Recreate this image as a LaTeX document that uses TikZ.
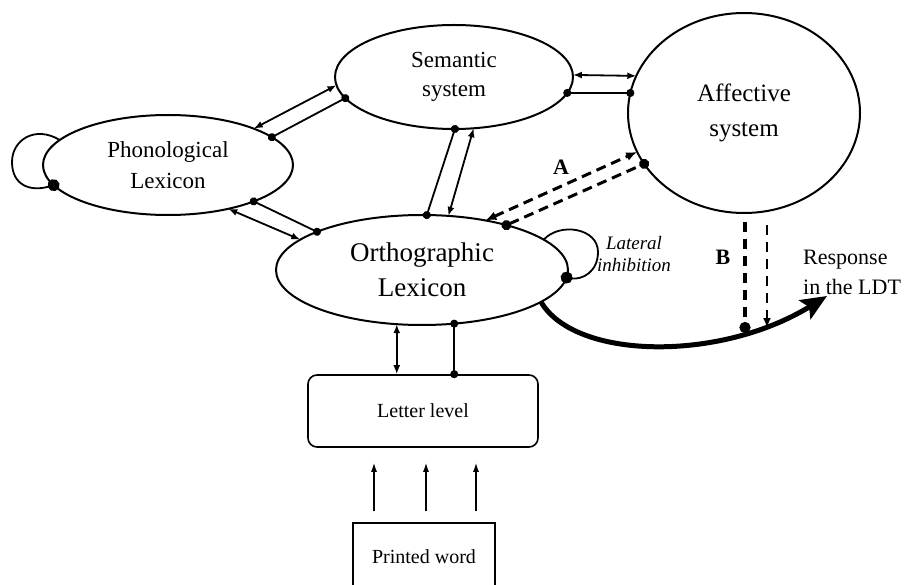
\documentclass[tikz,border=0pt]{standalone}
\usepackage{fontspec}
\setmainfont{Liberation Serif}
\usetikzlibrary{arrows.meta,shapes.geometric}
\tikzset{
  tA/.tip={Latex[length=9pt,width=7pt]},
  tD/.tip={Circle[length=8pt]},
  tBig/.tip={Circle[length=12pt]},
  ell/.style={ellipse,draw,line width=2pt,inner sep=0pt,outer sep=0pt,align=center},
  conn/.style={line width=1.8pt},
  biarrow/.style={conn,tA-tA},
  bidot/.style={conn,tD-tD,shorten <=-4pt,shorten >=-4pt},
  dsh/.style={dash pattern=on 10pt off 6pt},
  lbl/.style={font=\fontsize{22}{26}\selectfont\bfseries},
}
\begin{document}
\begin{tikzpicture}[x=1pt,y=-1pt]
\useasboundingbox (0,0) rectangle (910,585);
% nodes
\node[ell,minimum width=238pt,minimum height=104pt,font=\fontsize{23}{29}\selectfont] (sem) at (454,77) {Semantic\\system};
\node[ell,minimum width=250pt,minimum height=100pt,font=\fontsize{23}{31}\selectfont] (phon) at (168,165) {Phonological\\Lexicon};
\node[ell,minimum width=292pt,minimum height=110pt,font=\fontsize{27}{35}\selectfont] (ortho) at (422,270) {Orthographic\\Lexicon};
\node[ell,minimum width=232pt,minimum height=200pt,font=\fontsize{25}{35}\selectfont] (aff) at (744,113) {Affective\\system};
\node[draw,rounded corners=9pt,line width=1.6pt,minimum width=230pt,minimum height=72pt,inner sep=0pt,font=\fontsize{20}{24}\selectfont] (letter) at (423,411) {Letter level};
\node[draw,line width=1.2pt,minimum width=142pt,minimum height=68pt,inner sep=0pt,font=\fontsize{20}{24}\selectfont] (printed) at (424,557) {Printed word};
\node[align=left,anchor=west,font=\fontsize{22}{30}\selectfont,inner sep=0pt] (resptxt) at (803,272) {Response\\in the LDT};
\node[align=center,font=\fontsize{19}{22}\selectfont\itshape,inner sep=0pt] (lat) at (634,254) {Lateral\\inhibition};
\node[lbl] (labA) at (561,167) {A};
\node[lbl] (labB) at (723,257) {B};
\coordinate (resp) at (827,296);
\coordinate (b1top) at (745,222);
\coordinate (b1bot) at (745,328);
\coordinate (b2top) at (767,225);
\coordinate (b2bot) at (767,328);
% phon - sem
\draw[biarrow] (phon.23.8) -- (sem.184);
\draw[bidot] (phon.15) -- (sem.191.4);
% sem - ortho
\draw[bidot] (sem.271) -- (ortho.85);
\draw[biarrow] (sem.291.6) -- (ortho.64);
% sem - aff
\draw[biarrow] (sem.1) -- (aff.161);
\draw[bidot] (sem.352) -- (aff.170);
% phon - ortho
\draw[bidot] (phon.337) -- (ortho.160.4);
\draw[biarrow] (phon.324) -- (ortho.166.5);
% ortho - aff (A)
\draw[dsh,line width=3pt,{Latex[length=11pt,width=9pt]}-{Latex[length=11pt,width=9pt]}] (ortho.38.7) -- (aff.200.5);
\draw[dsh,line width=3pt,{Circle[length=10pt]}-{Circle[length=10pt]},shorten <=-5pt,shorten >=-5pt] (ortho.28) -- (aff.207);
% ortho - letter
\draw[biarrow] (ortho.245.2) -- (ortho.245.2 |- letter.north);
\draw[bidot] (ortho.301.6) -- (ortho.301.6 |- letter.north);
% printed - letter
\foreach \dx in {-50,2,52}{
  \draw[line width=1.3pt,-{Latex[length=9pt,width=6pt]},shorten <=11pt,shorten >=15pt]
    ([xshift=\dx pt]printed.north) -- ([xshift=\dx pt]printed.north |- letter.south);
}
% self loops
\draw[line width=1.8pt,-tBig,shorten >=-6pt] (phon.167) .. controls (35,125) and (12,140) .. (12,162)
  .. controls (12,185) and (30,192) .. (phon.190);
\draw[line width=1.8pt,-tBig,shorten >=-6pt] (ortho.14.8) .. controls (560,222) and (598,228) .. (598,252)
  .. controls (598,272) and (582,280) .. (ortho.357);
% response
\draw[line width=5pt,-{Stealth[length=26pt,width=22pt,inset=5pt]}] (ortho.345) .. controls (575,360) and (720,362) .. (resp);
% B lines
\draw[line width=4pt,dash pattern=on 10pt off 7pt,-{Circle[length=11pt]},shorten >=-5pt] (b1top) -- (b1bot);
\draw[line width=2.5pt,dash pattern=on 10pt off 7pt,-{Latex[length=10pt,width=8pt]}] (b2top) -- (b2bot);
\end{tikzpicture}
\end{document}
